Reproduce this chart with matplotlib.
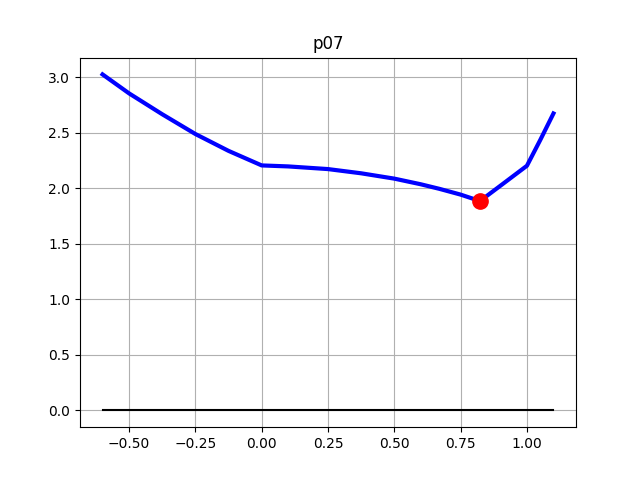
import matplotlib
matplotlib.use("Agg")
import matplotlib.pyplot as plt

x_curve = [-0.6, -0.5, -0.375, -0.25, -0.125, 0.0, 0.1, 0.25, 0.375, 0.5, 0.6, 0.67, 0.75, 0.823, 0.9, 1.0, 1.05, 1.1]
y_curve = [3.027, 2.856, 2.668, 2.49, 2.338, 2.207, 2.198, 2.174, 2.136, 2.088, 2.037, 1.996, 1.944, 1.886, 2.024, 2.204, 2.435, 2.675]
x_min_pt = [0.823]
y_min_pt = [1.886]
x_base = [-0.6, 1.1]
y_base = [0.0, 0.0]

fig, ax = plt.subplots(figsize=(6.4, 4.8), dpi=100)
ax.plot(x_curve, y_curve, color='blue', linewidth=3)
ax.plot(x_base, y_base, color='black', linewidth=1.5)
ax.plot(x_min_pt, y_min_pt, 'o', color='red', markersize=11)
ax.grid(True)
ax.set_title('p07')
fig.savefig('out.png')
